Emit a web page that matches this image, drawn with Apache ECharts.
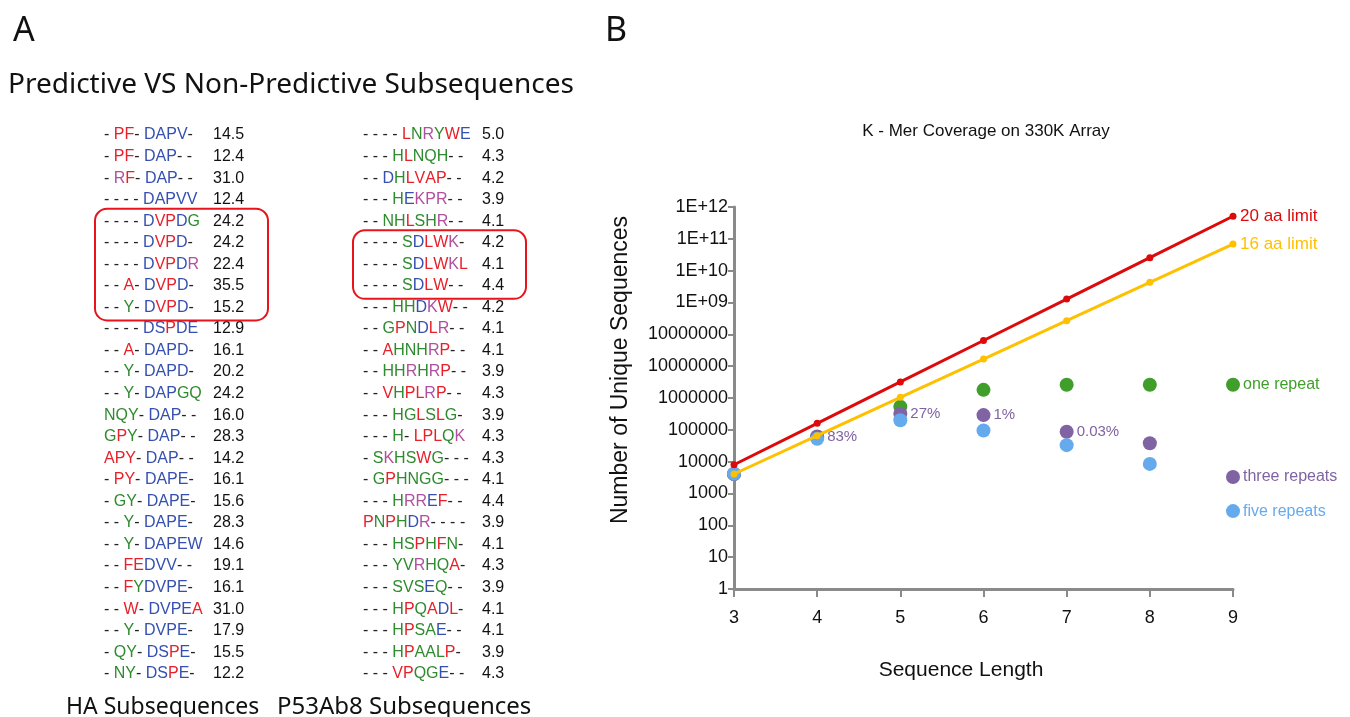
<!DOCTYPE html>
<html><head><meta charset="utf-8">
<script src="https://cdn.jsdelivr.net/npm/echarts@6/dist/echarts.min.js"></script>
<style>html,body{margin:0;padding:0;background:#fff}#c{width:1350px;height:717px}</style>
</head><body><div id="c"></div>
<script>
// ---------- Panel A data ----------
const haSeqs = ["-PF-DAPV-","-PF-DAP--","-RF-DAP--","----DAPVV","----DVPDG","----DVPD-","----DVPDR","--A-DVPD-","--Y-DVPD-","----DSPDE","--A-DAPD-","--Y-DAPD-","--Y-DAPGQ","NQY-DAP--","GPY-DAP--","APY-DAP--","-PY-DAPE-","-GY-DAPE-","--Y-DAPE-","--Y-DAPEW","--FEDVV--","--FYDVPE-","--W-DVPEA","--Y-DVPE-","-QY-DSPE-","-NY-DSPE-"];
const haColors = ["krrkbbbbk","krrkbbbkk","kmrkbbbkk","kkkkbbbbb","kkkkbrrbg","kkkkbrrbk","kkkkbrrbm","kkrkbrrbk","kkgkbrrbk","kkkkbbrbb","kkrkbbbbk","kkgkbbbbk","kkgkbbbgg","gggkbbbkk","grgkbbbkk","rrrkbbbkk","krrkbbbbk","kggkbbbbk","kkgkbbbbk","kkgkbbbbb","kkrrbbbkk","kkrgbbbbk","kkrkbbbbr","kkgkbbbbk","kggkbbrbk","kggkbbrbk"];
const haValues = ["14.5","12.4","31.0","12.4","24.2","24.2","22.4","35.5","15.2","12.9","16.1","20.2","24.2","16.0","28.3","14.2","16.1","15.6","28.3","14.6","19.1","16.1","31.0","17.9","15.5","12.2"];
const p53Seqs = ["----LNRYWE","---HLNQH--","--DHLVAP--","---HEKPR--","--NHLSHR--","----SDLWK-","----SDLWKL","----SDLW--","---HHDKW--","--GPNDLR--","--AHNHRP--","--HHRHRP--","--VHPLRP--","---HGLSLG-","---H-LPLQK","-SKHSWG---","-GPHNGG---","---HRREF--","PNPHDR----","---HSPHFN-","---YVRHQA-","---SVSEQ--","---HPQADL-","---HPSAE--","---HPAALP-","---VPQGE--"];
const p53Colors = ["kkkkrgmgrb","kkkgrgggkk","kkbgrrrrkk","kkkgbmmmkk","kkggrggmkk","kkkkgbrrmk","kkkkgbrrmr","kkkkgbrrkk","kkkggbmrkk","kkgrgbrmkk","kkrgggmrkk","kkggmgmrkk","kkrgrrmrkk","kkkggrgrgk","kkkgkrrrgm","kgmggrgkkk","kgrggggkkk","kkkgmmbrkk","rgrgbmkkkk","kkkggrgrgk","kkkggmggrk","kkkgggbgkk","kkkgrgrbrk","kkkgrggbkk","kkkgrgggrk","kkkrrggbkk"];
const p53Values = ["5.0","4.3","4.2","3.9","4.1","4.2","4.1","4.4","4.2","4.1","4.1","3.9","4.3","3.9","4.3","4.3","4.1","4.4","3.9","4.1","4.3","3.9","4.1","4.1","3.9","4.3"];
const haBoxRows = [4, 8];   // first, last boxed row index
const p53BoxRows = [5, 7];

// ---------- Panel B data ----------
const kmerLengths = [3, 4, 5, 6, 7, 8, 9];
const limit20aa = [8000, 160000, 3200000, 64000000, 1280000000, 25600000000, 512000000000];
const limit16aa = [4096, 65536, 1048576, 16777216, 268435456, 4294967296, 68719476736];
const oneRepeat = [4096, 60000, 530000, 1800000, 2600000, 2600000, 2600000];
const threeRepeats = [4096, 62000, 320000, 290000, 87000, 38000, 3300];
const fiveRepeats = [4200, 52000, 200000, 95000, 33000, 8500, 280];
const threeRepeatNotes = ["", "83%", "27%", "1%", "0.03%", "", "three repeats"];
const yTickLabels = ["1","10","100","1000","10000","100000","1000000","10000000","10000000","1E+09","1E+10","1E+11","1E+12"];

// ---------- styles ----------
const SEQ_COL = {k:'#222222', r:'#e8202a', b:'#3550b0', g:'#2e8b2e', m:'#b0509f'};
const SEQ_FONT = '"Liberation Sans", Arial, sans-serif';
const HEAD_FONT = '"Noto Sans", "Open Sans", sans-serif';
const C_RED = '#dc0a0a', C_YEL = '#ffc000', C_GRN = '#3f9f2a', C_PUR = '#7f63a2', C_BLU = '#66aaee';

const rich = {};
Object.keys(SEQ_COL).forEach(k => { rich[k] = {fill: SEQ_COL[k], fontSize: 16, fontFamily: SEQ_FONT}; });

function richRow(seq, cols) {
  let s = '';
  for (let i = 0; i < seq.length; i++) {
    const ch = seq[i];
    s += '{' + cols[i] + '|' + (ch === '-' ? '- ' : ch) + '}';
  }
  return s;
}

const ROW0 = 135, ROWH = 21.55;
const graphics = [];
function txt(x, y, text, font, fill, align, extra) {
  return Object.assign({
    type: 'text', x: x, y: y, silent: true,
    style: {text: text, font: font, fill: fill || '#111',
      align: align || 'left', verticalAlign: 'middle',
      textAlign: align || 'left', textVerticalAlign: 'middle'}
  }, extra || {});
}
function addColumn(seqs, cols, vals, xSeq, xVal) {
  seqs.forEach((s, i) => {
    const y = ROW0 + i * ROWH;
    graphics.push({type: 'text', x: xSeq, y: y, silent: true,
      style: {text: richRow(s, cols[i]), rich: rich, fontSize: 16, fontFamily: SEQ_FONT,
        align: 'left', verticalAlign: 'middle', textAlign: 'left', textVerticalAlign: 'middle'}});
    graphics.push(txt(xVal, y, vals[i], '16px ' + SEQ_FONT, '#111'));
  });
}
addColumn(haSeqs, haColors, haValues, 104, 213);
addColumn(p53Seqs, p53Colors, p53Values, 363, 482);

function box(x0, x1, rows) {
  const y0 = ROW0 + rows[0] * ROWH - 12.5, y1 = ROW0 + rows[1] * ROWH + 13;
  graphics.push({type: 'rect', silent: true,
    shape: {x: x0, y: y0, width: x1 - x0, height: y1 - y0, r: 12},
    style: {fill: 'none', stroke: '#e8141c', lineWidth: 2}});
}
box(95, 268, haBoxRows);
box(353, 526, p53BoxRows);

graphics.push(txt(13, 31, 'A', '34px ' + HEAD_FONT, '#111'));
graphics.push(txt(605, 31, 'B', '34px ' + HEAD_FONT, '#111'));
graphics.push(txt(8, 85, 'Predictive VS Non-Predictive Subsequences', '28px ' + HEAD_FONT, '#111'));
graphics.push(txt(66, 707, 'HA Subsequences', '23px ' + HEAD_FONT, '#111'));
graphics.push(txt(277, 707, 'P53Ab8 Subsequences', '24px ' + HEAD_FONT, '#111'));

graphics.push(txt(986, 131, 'K - Mer Coverage on 330K Array', '17px ' + SEQ_FONT, '#111', 'center'));
graphics.push(txt(961, 670, 'Sequence Length', '21px ' + SEQ_FONT, '#111', 'center'));
graphics.push(txt(621, 370, 'Number of Unique Sequences', '23px ' + SEQ_FONT, '#111', 'center', {rotation: Math.PI / 2}));

function pairs(vals) { return kmerLengths.map((k, i) => [k, vals[i]]); }
function scatterData(vals, notes, color) {
  return kmerLengths.map((k, i) => ({
    value: [k, vals[i]],
    label: {show: !!notes[i], formatter: notes[i] || '', position: 'right', distance: 3,
      color: color, fontSize: i === kmerLengths.length - 1 ? 16 : 15, fontFamily: SEQ_FONT}
  }));
}
const last = kmerLengths.length - 1;
const oneNotes = kmerLengths.map((k, i) => i === last ? 'one repeat' : '');
const fiveNotes = kmerLengths.map((k, i) => i === last ? 'five repeats' : '');

const chart = echarts.init(document.getElementById('c'), null, {renderer: 'canvas'});
chart.setOption({
  animation: false,
  backgroundColor: '#ffffff',
  grid: {left: 734, right: 117, top: 207, bottom: 128, containLabel: false, outerBoundsMode: 'none'},
  xAxis: {
    type: 'value', min: 3, max: 9, interval: 1,
    axisLine: {show: true, onZero: false, lineStyle: {color: '#8a8a8a', width: 3}},
    axisTick: {show: true, length: 8, lineStyle: {color: '#8a8a8a', width: 2}},
    axisLabel: {fontSize: 18, color: '#111', margin: 20, fontFamily: SEQ_FONT},
    splitLine: {show: false}
  },
  yAxis: {
    type: 'log', logBase: 10, min: 1, max: 1e12, interval: 1,
    axisLine: {show: true, lineStyle: {color: '#8a8a8a', width: 3}},
    axisTick: {show: true, length: 6, interval: 0, lineStyle: {color: '#8a8a8a', width: 2}},
    axisLabel: {fontSize: 18, color: '#111', margin: 6, fontFamily: SEQ_FONT, interval: 0, hideOverlap: false,
      formatter: v => yTickLabels[Math.round(Math.log10(v))] || ''},
    splitLine: {show: false}
  },
  graphic: graphics,
  series: [
    {type: 'line', name: '20 aa limit', data: pairs(limit20aa), symbol: 'circle', symbolSize: 7,
      lineStyle: {color: C_RED, width: 3}, itemStyle: {color: C_RED},
      endLabel: {show: true, formatter: '20 aa limit', color: C_RED, fontSize: 17, fontFamily: SEQ_FONT, distance: 7}},
    {type: 'line', name: '16 aa limit', data: pairs(limit16aa), symbol: 'circle', symbolSize: 7,
      lineStyle: {color: C_YEL, width: 3}, itemStyle: {color: C_YEL},
      endLabel: {show: true, formatter: '16 aa limit', color: C_YEL, fontSize: 17, fontFamily: SEQ_FONT, distance: 7}},
    {type: 'scatter', name: 'one repeat', data: scatterData(oneRepeat, oneNotes, C_GRN), symbolSize: 14, itemStyle: {color: C_GRN, opacity: 1}},
    {type: 'scatter', name: 'three repeats', data: scatterData(threeRepeats, threeRepeatNotes, C_PUR), symbolSize: 14, itemStyle: {color: C_PUR, opacity: 1}},
    {type: 'scatter', name: 'five repeats', data: scatterData(fiveRepeats, fiveNotes, C_BLU), symbolSize: 14, itemStyle: {color: C_BLU, opacity: 1}}
  ]
});
</script></body></html>
